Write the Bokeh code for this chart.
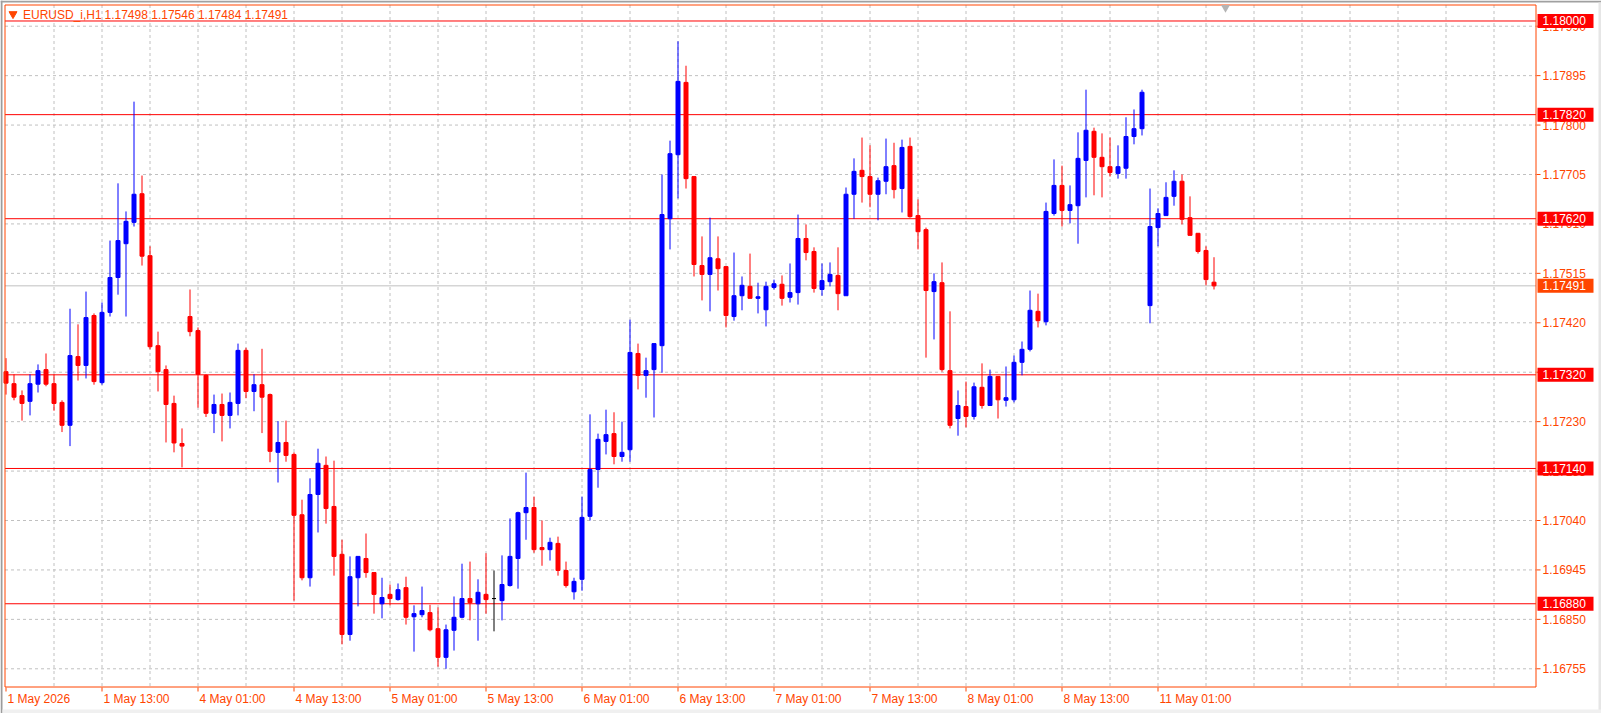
from bokeh.plotting import figure
from bokeh.models import Range1d, ColumnDataSource
from bokeh.embed import file_html
from bokeh.resources import INLINE
from bokeh.core.properties import value

# ---------------- data ----------------
symbol = "EURUSD_i,H1"

opens = [1.17326, 1.17303, 1.17280, 1.17269, 1.17302, 1.17330, 1.17303, 1.17267, 1.17223, 1.17355,
         1.17338, 1.17434, 1.17305, 1.17440, 1.17507, 1.17572, 1.17613, 1.17668, 1.17549, 1.17376,
         1.17330, 1.17265, 1.17188, 1.17432, 1.17405, 1.17319, 1.17246, 1.17263, 1.17242, 1.17265,
         1.17367, 1.17288, 1.17301, 1.17282, 1.17171, 1.17190, 1.17167, 1.17051, 1.16930, 1.17090,
         1.17146, 1.17067, 1.16975, 1.16821, 1.16930, 1.16967, 1.16940, 1.16880, 1.16898, 1.16888,
         1.16911, 1.16855, 1.16859, 1.16863, 1.16832, 1.16777, 1.16829, 1.16854, 1.16890, 1.16880,
         1.16898, 1.16890, 1.16886, 1.16915, 1.16967, 1.17055, 1.17065, 1.16988, 1.16984, 1.16996,
         1.16944, 1.16903, 1.16927, 1.17048, 1.17138, 1.17192, 1.17207, 1.17163, 1.17176, 1.17361,
         1.17319, 1.17330, 1.17376, 1.17620, 1.17743, 1.17882, 1.17701, 1.17530, 1.17513, 1.17543,
         1.17528, 1.17432, 1.17472, 1.17490, 1.17467, 1.17445, 1.17488, 1.17494, 1.17469, 1.17478,
         1.17582, 1.17557, 1.17484, 1.17499, 1.17511, 1.17472, 1.17667, 1.17713, 1.17701, 1.17667,
         1.17692, 1.17722, 1.17678, 1.17759, 1.17626, 1.17599, 1.17480, 1.17497, 1.17328, 1.17236,
         1.17259, 1.17240, 1.17296, 1.17261, 1.17317, 1.17271, 1.17272, 1.17344, 1.17369, 1.17442,
         1.17422, 1.17630, 1.17684, 1.17636, 1.17645, 1.17732, 1.17788, 1.17738, 1.17720, 1.17707,
         1.17717, 1.17778, 1.17793, 1.17453, 1.17603, 1.17626, 1.17663, 1.17692, 1.17622, 1.17592,
         1.17559, 1.17498]

highs = [1.17352, 1.17321, 1.17290, 1.17321, 1.17340, 1.17361, 1.17321, 1.17271, 1.17447, 1.17417,
         1.17480, 1.17438, 1.17459, 1.17578, 1.17688, 1.17634, 1.17845, 1.17703, 1.17567, 1.17403,
         1.17338, 1.17280, 1.17217, 1.17484, 1.17411, 1.17321, 1.17282, 1.17284, 1.17286, 1.17380,
         1.17372, 1.17321, 1.17370, 1.17284, 1.17231, 1.17232, 1.17171, 1.17080, 1.17121, 1.17178,
         1.17163, 1.17155, 1.17003, 1.16971, 1.16971, 1.17015, 1.16940, 1.16930, 1.16917, 1.16919,
         1.16932, 1.16877, 1.16913, 1.16878, 1.16873, 1.16840, 1.16894, 1.16957, 1.16961, 1.16927,
         1.16977, 1.16944, 1.16973, 1.17044, 1.17057, 1.17132, 1.17086, 1.17040, 1.17007, 1.17009,
         1.16961, 1.16930, 1.17086, 1.17244, 1.17207, 1.17253, 1.17248, 1.17230, 1.17426, 1.17380,
         1.17353, 1.17380, 1.17705, 1.17770, 1.17961, 1.17914, 1.17701, 1.17586, 1.17622, 1.17586,
         1.17528, 1.17555, 1.17509, 1.17553, 1.17497, 1.17499, 1.17503, 1.17511, 1.17534, 1.17628,
         1.17609, 1.17565, 1.17534, 1.17536, 1.17565, 1.17680, 1.17736, 1.17776, 1.17761, 1.17699,
         1.17774, 1.17766, 1.17772, 1.17776, 1.17657, 1.17603, 1.17515, 1.17536, 1.17442, 1.17290,
         1.17307, 1.17305, 1.17342, 1.17330, 1.17317, 1.17336, 1.17357, 1.17384, 1.17482, 1.17476,
         1.17651, 1.17734, 1.17722, 1.17684, 1.17786, 1.17868, 1.17795, 1.17784, 1.17776, 1.17761,
         1.17815, 1.17830, 1.17868, 1.17678, 1.17640, 1.17690, 1.17713, 1.17705, 1.17663, 1.17592,
         1.17567, 1.17546]

lows = [1.17282, 1.17271, 1.17232, 1.17242, 1.17286, 1.17298, 1.17251, 1.17210, 1.17183, 1.17309,
        1.17313, 1.17301, 1.17301, 1.17432, 1.17474, 1.17432, 1.17605, 1.17530, 1.17369, 1.17288,
        1.17190, 1.17171, 1.17142, 1.17394, 1.17257, 1.17239, 1.17208, 1.17192, 1.17217, 1.17242,
        1.17275, 1.17250, 1.17208, 1.17152, 1.17113, 1.17153, 1.16886, 1.16925, 1.16913, 1.17017,
        1.17034, 1.16934, 1.16802, 1.16809, 1.16875, 1.16930, 1.16861, 1.16852, 1.16877, 1.16886,
        1.16840, 1.16788, 1.16854, 1.16827, 1.16759, 1.16755, 1.16790, 1.16852, 1.16848, 1.16809,
        1.16861, 1.16827, 1.16848, 1.16913, 1.16909, 1.17003, 1.16978, 1.16953, 1.16963, 1.16934,
        1.16911, 1.16888, 1.16905, 1.17040, 1.17103, 1.17167, 1.17148, 1.17153, 1.17153, 1.17292,
        1.17276, 1.17238, 1.17324, 1.17561, 1.17659, 1.17678, 1.17509, 1.17463, 1.17442, 1.17482,
        1.17411, 1.17424, 1.17444, 1.17467, 1.17438, 1.17413, 1.17484, 1.17453, 1.17459, 1.17455,
        1.17540, 1.17478, 1.17472, 1.17490, 1.17444, 1.17472, 1.17620, 1.17651, 1.17642, 1.17617,
        1.17667, 1.17659, 1.17632, 1.17622, 1.17561, 1.17353, 1.17388, 1.17326, 1.17217, 1.17203,
        1.17219, 1.17234, 1.17255, 1.17261, 1.17236, 1.17259, 1.17267, 1.17319, 1.17365, 1.17411,
        1.17415, 1.17626, 1.17605, 1.17611, 1.17572, 1.17661, 1.17665, 1.17661, 1.17701, 1.17697,
        1.17697, 1.17763, 1.17780, 1.17419, 1.17567, 1.17626, 1.17645, 1.17609, 1.17588, 1.17553,
        1.17492, 1.17484]

closes = [1.17304, 1.17277, 1.17265, 1.17303, 1.17328, 1.17302, 1.17265, 1.17223, 1.17357, 1.17338,
          1.17430, 1.17307, 1.17440, 1.17507, 1.17578, 1.17615, 1.17667, 1.17548, 1.17374, 1.17326,
          1.17263, 1.17189, 1.17183, 1.17403, 1.17321, 1.17246, 1.17263, 1.17242, 1.17267, 1.17367,
          1.17288, 1.17301, 1.17277, 1.17173, 1.17190, 1.17165, 1.17050, 1.16930, 1.17090, 1.17150,
          1.17063, 1.16971, 1.16821, 1.16932, 1.16971, 1.16940, 1.16898, 1.16892, 1.16890, 1.16907,
          1.16854, 1.16861, 1.16867, 1.16830, 1.16777, 1.16830, 1.16854, 1.16890, 1.16882, 1.16902,
          1.16888, 1.16890, 1.16917, 1.16971, 1.17055, 1.17065, 1.16984, 1.16984, 1.16998, 1.16944,
          1.16915, 1.16923, 1.17046, 1.17138, 1.17196, 1.17205, 1.17163, 1.17171, 1.17363, 1.17319,
          1.17328, 1.17380, 1.17628, 1.17745, 1.17884, 1.17697, 1.17532, 1.17513, 1.17545, 1.17524,
          1.17434, 1.17472, 1.17492, 1.17467, 1.17470, 1.17490, 1.17495, 1.17467, 1.17478, 1.17582,
          1.17555, 1.17486, 1.17501, 1.17513, 1.17476, 1.17667, 1.17711, 1.17701, 1.17667, 1.17693,
          1.17720, 1.17676, 1.17757, 1.17624, 1.17595, 1.17482, 1.17499, 1.17330, 1.17223, 1.17261,
          1.17240, 1.17297, 1.17261, 1.17317, 1.17272, 1.17276, 1.17344, 1.17369, 1.17444, 1.17424,
          1.17634, 1.17684, 1.17636, 1.17647, 1.17736, 1.17790, 1.17738, 1.17720, 1.17709, 1.17720,
          1.17778, 1.17793, 1.17863, 1.17605, 1.17630, 1.17661, 1.17692, 1.17619, 1.17588, 1.17557,
          1.17503, 1.17491]

price_ticks = [1.17990, 1.17895, 1.17800, 1.17705, 1.17610, 1.17515, 1.17420,
               1.17325, 1.17230, 1.17135, 1.17040, 1.16945, 1.16850, 1.16755]

time_tick_bars = [0, 12, 24, 36, 48, 60, 72, 84, 96, 108, 120, 132, 144]
time_tick_labels = ["1 May 2026", "1 May 13:00", "4 May 01:00", "4 May 13:00", "5 May 01:00",
                    "5 May 13:00", "6 May 01:00", "6 May 13:00", "7 May 01:00", "7 May 13:00",
                    "8 May 01:00", "8 May 13:00", "11 May 01:00"]

level_prices = [1.18000, 1.17820, 1.17620, 1.17320, 1.17140, 1.16880]
current_price = 1.17491

# ---------------- layout (pixel geometry of the terminal window) ----------------
W, H = 1601, 713
X0 = 5.5        # pixel centre of bar 0
BAR = 8.0       # pixels per bar
PPU = 52032.0   # pixels per price unit
REF_P, REF_Y = 1.17990, 25.7

def xd(px):
    return (px - X0) / BAR

def yd(py):
    return REF_P - (py - REF_Y) / PPU

ORANGE = "#ff4500"
GRID = "#c0c0c0"
FONT = value("Liberation Sans")

p = figure(width=W, height=H, x_range=Range1d(xd(0), xd(W)), y_range=Range1d(yd(H), yd(0)),
           output_backend="svg", toolbar_location=None, title=None, min_border=0,
           x_axis_location=None, y_axis_location=None)
for g in p.grid:
    g.visible = False
p.outline_line_color = None
p.background_fill_color = "white"
p.border_fill_color = "white"

L_PX, R_PX, T_PX, B_PX = 4.5, 1535.5, 4.5, 686.5

# window frame edges
p.quad(left=[xd(0)], right=[xd(2)], top=[yd(0)], bottom=[yd(H)], fill_color="#9c9c9c", line_color=None)
p.quad(left=[xd(0)], right=[xd(W)], top=[yd(0)], bottom=[yd(2)], fill_color="#a0a0a0", line_color=None)
p.quad(left=[xd(1598)], right=[xd(W)], top=[yd(2)], bottom=[yd(H)], fill_color="#e6e6e6", line_color=None)
p.quad(left=[xd(2)], right=[xd(W)], top=[yd(709)], bottom=[yd(H)], fill_color="#f0f0f0", line_color=None)

# grid
n_v = int((R_PX - X0) // 48)
vx = [6 * j for j in range(1, n_v + 1)]
p.segment(x0=vx, x1=vx, y0=[yd(T_PX)] * len(vx), y1=[yd(B_PX)] * len(vx),
          line_color=GRID, line_width=1, line_dash="3 3")
p.segment(x0=[xd(L_PX)] * len(price_ticks), x1=[xd(R_PX)] * len(price_ticks),
          y0=price_ticks, y1=price_ticks, line_color=GRID, line_width=1, line_dash="3 3")

# current price line
p.segment(x0=[xd(L_PX)], x1=[xd(R_PX)], y0=[current_price], y1=[current_price],
          line_color=GRID, line_width=1)
# horizontal levels
p.segment(x0=[xd(L_PX)] * len(level_prices), x1=[xd(R_PX)] * len(level_prices),
          y0=level_prices, y1=level_prices, line_color="#ff0000", line_width=1)

# candles
idx = list(range(len(opens)))
cols = ["#0000ff" if c > o else ("#ff0000" if c < o else "#000000") for o, c in zip(opens, closes)]
src = ColumnDataSource(dict(x=idx, o=opens, h=highs, l=lows, c=closes,
                            top=[max(o, c) for o, c in zip(opens, closes)],
                            bot=[min(o, c) for o, c in zip(opens, closes)], col=cols))
p.segment(x0="x", x1="x", y0="l", y1="h", line_color="col", line_width=1, source=src)
p.vbar(x="x", width=0.5, top="top", bottom="bot", fill_color="col", line_color="col",
       line_width=1, source=src)

# plot border
p.quad(left=[xd(L_PX)], right=[xd(R_PX)], top=[yd(T_PX)], bottom=[yd(B_PX)],
       fill_color=None, line_color=ORANGE, line_width=1)

# price axis ticks and labels
p.segment(x0=[xd(1536)] * len(price_ticks), x1=[xd(1540)] * len(price_ticks),
          y0=price_ticks, y1=price_ticks, line_color=ORANGE, line_width=1)
p.text(x=[xd(1542)] * len(price_ticks), y=price_ticks, text=["%.5f" % t for t in price_ticks],
       text_font=FONT, text_font_size="12px", text_color=ORANGE,
       text_baseline="middle", text_align="left")

# level labels
p.rect(x=[xd(1565)] * len(level_prices), y=level_prices, width=56, height=14,
       width_units="screen", height_units="screen", fill_color="#ff0000", line_color=None)
p.text(x=[xd(1542)] * len(level_prices), y=level_prices, text=["%.5f" % v for v in level_prices],
       text_font=FONT, text_font_size="12px", text_color="white",
       text_baseline="middle", text_align="left")
p.rect(x=[xd(1565)], y=[current_price], width=56, height=14,
       width_units="screen", height_units="screen", fill_color=ORANGE, line_color=None)
p.text(x=[xd(1542)], y=[current_price], text=["%.5f" % current_price],
       text_font=FONT, text_font_size="12px", text_color="white",
       text_baseline="middle", text_align="left")

# time axis ticks and labels
p.segment(x0=time_tick_bars, x1=time_tick_bars, y0=[yd(687)] * len(time_tick_bars),
          y1=[yd(691)] * len(time_tick_bars), line_color=ORANGE, line_width=1)
p.text(x=[b + 1.5 / BAR for b in time_tick_bars], y=[yd(698)] * len(time_tick_bars),
       text=time_tick_labels, text_font=FONT, text_font_size="12px", text_color=ORANGE,
       text_baseline="middle", text_align="left")

# header
p.scatter(x=[xd(12.5)], y=[yd(13.5)], marker="inverted_triangle", size=8,
          fill_color=ORANGE, line_color=ORANGE)
p.text(x=[xd(22.5)], y=[yd(14)], text=[symbol], text_font=FONT, text_font_size="12px",
       text_color=ORANGE, text_baseline="middle", text_align="left")
p.text(x=[xd(104)], y=[yd(14)],
       text=[" ".join("%.5f" % v for v in (opens[-1], highs[-1], lows[-1], closes[-1]))],
       text_font=FONT, text_font_size="12px", text_color=ORANGE,
       text_baseline="middle", text_align="left")

# chart shift marker
p.scatter(x=[xd(1225)], y=[yd(7)], marker="inverted_triangle", size=9,
          fill_color="#b4b4b4", line_color=None)

open("out.html", "w").write(file_html(p, INLINE))
